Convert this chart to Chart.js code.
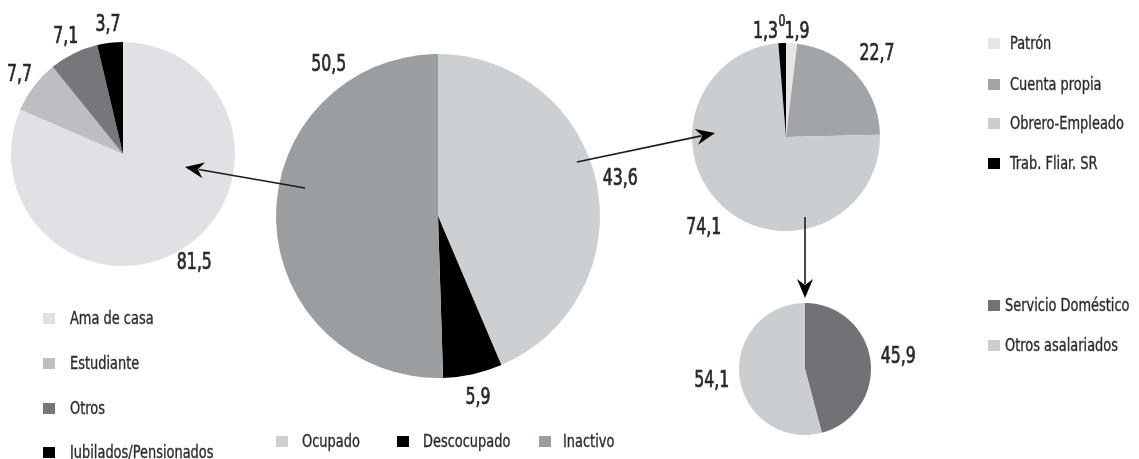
<!DOCTYPE html>
<html>
<head>
<meta charset="utf-8">
<script src="https://cdn.jsdelivr.net/npm/chart.js@4"></script>
<style>
  body { margin: 0; background: #fff; }
  #wrap { position: relative; width: 1139px; height: 459px; overflow: hidden; }
  #wrap canvas { position: absolute; left: 0; top: 0; }
  .leg { position: absolute; font: 18px "DejaVu Sans Condensed", "DejaVu Sans", sans-serif; color: #2b2b2b; white-space: nowrap; line-height: 20px; -webkit-text-stroke: 0.35px #2b2b2b; }
  .leg i { position: absolute; width: 12px; height: 11px; top: 5px; left: 0; }
  .leg span { display: inline-block; transform: scaleX(0.8); transform-origin: 0 50%; }
</style>
</head>
<body>
<div id="wrap">
  <canvas id="inact" width="1139" height="459"></canvas>
  <canvas id="total" width="1139" height="459"></canvas>
  <canvas id="ocup" width="1139" height="459"></canvas>
  <canvas id="asal" width="1139" height="459"></canvas>
</div>
<script>
// condicion de actividad
var totalLabels = ['Ocupado', 'Descocupado', 'Inactivo'];
var totalValues = [43.6, 5.9, 50.5];
var totalColors = ['#cdd0d3', '#000000', '#9b9ea1'];

// inactivos
var inactLabels = ['Ama de casa', 'Estudiante', 'Otros', 'Jubilados/Pensionados'];
var inactValues = [81.5, 7.7, 7.1, 3.7];
var inactColors = ['#dfe1e4', '#bcbec1', '#75777a', '#000000'];

// ocupados (el ultimo es el 0 sin categoria)
var ocupLabels = ['Patrón', 'Cuenta propia', 'Obrero-Empleado', 'Trab. Fliar. SR', ''];
var ocupValues = [1.9, 22.7, 74.1, 1.3, 0];
var ocupColors = ['#e3e5e7', '#a2a5a8', '#cbced1', '#000000', '#000000'];

// asalariados
var asalLabels = ['Servicio Doméstico', 'Otros asalariados'];
var asalValues = [45.9, 54.1];
var asalColors = ['#707275', '#cbced1'];

var FONT = '"DejaVu Sans Condensed", "DejaVu Sans", sans-serif';

// etiquetas de porcentaje, override = {indice: {angle, dist, size}}
function sliceLabels(offset, override) {
    override = override || {};
    return {
        id: 'sliceLabels',
        afterDatasetsDraw: function(chart) {
            var meta = chart.getDatasetMeta(0);
            var values = chart.data.datasets[0].data;
            var ctx = chart.ctx;
            ctx.save();
            ctx.fillStyle = '#2a2a2a';
            ctx.strokeStyle = '#2a2a2a';
            ctx.lineWidth = 0.7;
            ctx.textAlign = 'center';
            ctx.textBaseline = 'middle';
            meta.data.forEach(function(arc, i) {
                var p = arc.getProps(['x', 'y', 'startAngle', 'endAngle', 'outerRadius'], true);
                var a = (p.startAngle + p.endAngle) / 2;
                var o = override[i] || {};
                if (o.angle != null) a = o.angle * Math.PI / 180 - Math.PI / 2;
                var d = o.dist ? o.dist : p.outerRadius + offset;
                ctx.font = (o.size || 23) + 'px ' + FONT;
                var txt = String(values[i]).replace('.', ',');
                ctx.save();
                ctx.translate(p.x + Math.cos(a) * d, p.y + Math.sin(a) * d);
                ctx.scale(0.76, 1);
                ctx.fillText(txt, 0, 0);
                ctx.strokeText(txt, 0, 0);
                ctx.restore();
            });
            ctx.restore();
        }
    };
}

// flechas entre tortas
var arrows = [
    [305, 188, 185, 167],
    [577, 162, 715, 133],
    [805, 217, 805, 298]
];

var arrowPlugin = {
    id: 'arrows',
    afterDraw: function(chart) {
        var ctx = chart.ctx;
        ctx.save();
        ctx.strokeStyle = '#1a1a1a';
        ctx.fillStyle = '#000';
        ctx.lineWidth = 1.6;
        arrows.forEach(function(a) {
            var ang = Math.atan2(a[3] - a[1], a[2] - a[0]);
            var len = 19, half = 8;
            var bx = a[2] - Math.cos(ang) * len, by = a[3] - Math.sin(ang) * len;
            ctx.beginPath();
            ctx.moveTo(a[0], a[1]);
            ctx.lineTo(bx + Math.cos(ang) * 5, by + Math.sin(ang) * 5);
            ctx.stroke();
            ctx.beginPath();
            ctx.moveTo(a[2], a[3]);
            ctx.lineTo(bx - Math.sin(ang) * half, by + Math.cos(ang) * half);
            ctx.lineTo(bx + Math.cos(ang) * 6, by + Math.sin(ang) * 6);
            ctx.lineTo(bx + Math.sin(ang) * half, by - Math.cos(ang) * half);
            ctx.closePath();
            ctx.fill();
        });
        ctx.restore();
    }
};

function makePie(id, labels, values, colors, cx, cy, r, labelPlugin, extra) {
    return new Chart(document.getElementById(id), {
        type: 'pie',
        data: {
            labels: labels,
            datasets: [{
                data: values,
                backgroundColor: colors,
                borderWidth: 0
            }]
        },
        options: {
            responsive: false,
            animation: false,
            events: [],
            layout: { padding: { left: cx - r, top: cy - r, right: 1139 - cx - r, bottom: 459 - cy - r } },
            plugins: {
                legend: { display: false },
                tooltip: { enabled: false }
            }
        },
        plugins: [labelPlugin].concat(extra || [])
    });
}

makePie('inact', inactLabels, inactValues, inactColors, 123, 154, 112, sliceLabels(18));
makePie('total', totalLabels, totalValues, totalColors, 438, 216, 162, sliceLabels(24, { 2: { angle: 324 } }));
makePie('ocup', ocupLabels, ocupValues, ocupColors, 786, 137, 94,
    sliceLabels(29, { 0: { angle: 6, dist: 106 }, 3: { angle: 349, dist: 107 }, 4: { angle: 358, dist: 115, size: 16 } }));
makePie('asal', asalLabels, asalValues, asalColors, 805, 369, 66, sliceLabels(28), [arrowPlugin]);

// leyendas
function legend(labels, colors, items) {
    var wrap = document.getElementById('wrap');
    labels.forEach(function(lab, i) {
        if (!lab) return;
        var it = items[i];
        var d = document.createElement('div');
        d.className = 'leg';
        d.style.left = it[0] + 'px';
        d.style.top = (it[1] - 10) + 'px';
        d.style.paddingLeft = it[2] + 'px';
        var sq = document.createElement('i');
        sq.style.background = colors[i];
        d.appendChild(sq);
        var s = document.createElement('span');
        s.textContent = lab;
        d.appendChild(s);
        wrap.appendChild(d);
    });
}

legend(inactLabels, inactColors, [[43, 318, 27], [43, 363, 27], [43, 408, 27], [43, 452, 27]]);
legend(totalLabels, totalColors, [[276, 441, 26], [397, 441, 26], [539, 441, 24]]);
legend(ocupLabels, ocupColors, [[988, 43, 22], [988, 84, 22], [988, 123, 22], [988, 163, 22]]);
legend(asalLabels, asalColors, [[988, 305, 17], [988, 345, 17]]);
</script>
</body>
</html>
